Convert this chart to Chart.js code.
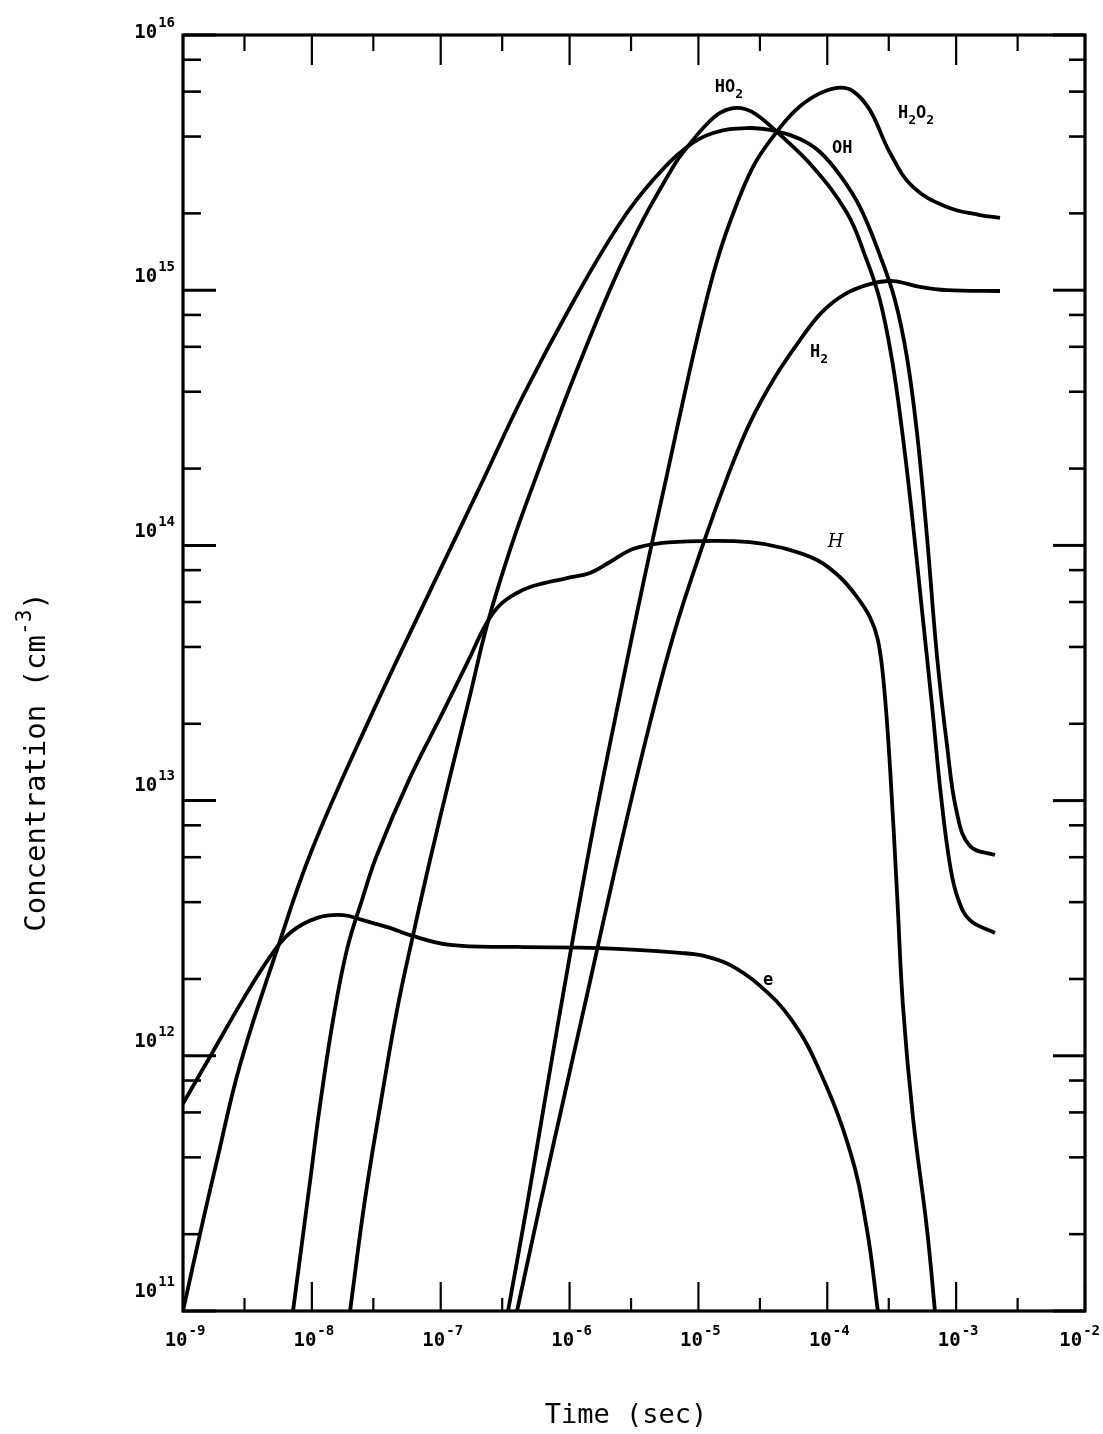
<!DOCTYPE html>
<html><head><meta charset="utf-8">
<script src="https://cdn.jsdelivr.net/npm/chart.js@4/dist/chart.umd.min.js"></script>
<style>
html,body{margin:0;padding:0;background:#fff;}
#wrap{position:relative;width:1103px;height:1434px;}
</style></head><body>
<div id="wrap"><canvas id="c"></canvas></div>
<script>
// ---- axis ticks ----
const X_MAJOR = [1e-9,1e-8,1e-7,1e-6,1e-5,1e-4,1e-3,1e-2];
const X_MAJOR_EXP = ['-9','-8','-7','-6','-5','-4','-3','-2'];
const X_MINOR = [3e-9,3e-8,3e-7,3e-6,3e-5,3e-4,3e-3];
const Y_MAJOR = [1e11,1e12,1e13,1e14,1e15,1e16];
const Y_MAJOR_EXP = ['11','12','13','14','15','16'];
const Y_MINOR = [2e11,4e11,6e11,8e11,2e12,4e12,6e12,8e12,2e13,4e13,6e13,8e13,
                 2e14,4e14,6e14,8e14,2e15,4e15,6e15,8e15];

// ---- series: time (s) and concentration (cm^-3) ----
const tE = [1e-9,1.71e-9,2.92e-9,4.73e-9,6.76e-9,1.10e-8,1.75e-8,2.49e-8,4.04e-8,5.78e-8,1.18e-7,3.91e-7,1.72e-6,7.19e-6,1.124e-5,1.758e-5,3.01e-5,5.13e-5,8.32e-5,1.50e-4,2.03e-4,2.47e-4];
const cE = [6.5e11,1.04e12,1.66e12,2.44e12,3.03e12,3.47e12,3.56e12,3.40e12,3.17e12,2.97e12,2.72e12,2.67e12,2.64e12,2.53e12,2.46e12,2.27e12,1.88e12,1.41e12,9.2e11,4.24e11,2.09e11,1e11];

const tH = [7.14e-9,9.67e-9,1.157e-8,1.46e-8,1.87e-8,2.45e-8,3.20e-8,5.78e-8,1.04e-7,1.63e-7,2.25e-7,2.88e-7,3.77e-7,5.20e-7,9.55e-7,1.44e-6,2.06e-6,3.10e-6,5.03e-6,1.03e-5,2.51e-5,4.53e-5,8.32e-5,1.25e-4,1.70e-4,2.14e-4,2.47e-4,2.75e-4,3.07e-4,3.48e-4,3.87e-4,4.62e-4,5.94e-4,6.85e-4];
const cH = [1e11,3.2e11,6.41e11,1.38e12,2.60e12,4.08e12,6.12e12,1.23e13,2.22e13,3.52e13,4.92e13,5.84e13,6.45e13,6.93e13,7.45e13,7.80e13,8.61e13,9.68e13,1.02e14,1.04e14,1.03e14,9.77e13,8.77e13,7.52e13,6.28e13,5.24e13,4.26e13,2.84e13,1.34e13,4.31e12,1.56e12,5.75e11,2.09e11,1e11];

const tHO2 = [1.98e-8,2.58e-8,3.56e-8,4.58e-8,5.98e-8,8.26e-8,1.18e-7,1.69e-7,2.29e-7,3.45e-7,5.20e-7,1.205e-6,2.79e-6,6.35e-6,9.08e-6,1.164e-5,1.47e-5,1.854e-5,2.30e-5,2.85e-5,4.07e-5,7.74e-5,1.42e-4,1.96e-4,2.56e-4,3.18e-4,3.80e-4,4.54e-4,5.43e-4,6.49e-4,7.62e-4,8.96e-4,1.03e-3,1.28e-3,2.0e-3];
const cHO2 = [1e11,2.72e11,7.35e11,1.51e12,2.84e12,5.85e12,1.24e13,2.59e13,4.88e13,9.60e13,1.72e14,5.23e14,1.41e15,3.04e15,3.88e15,4.48e15,4.95e15,5.17e15,5.13e15,4.86e15,4.17e15,3.04e15,2.01e15,1.37e15,9.16e14,5.33e14,2.83e14,1.32e14,5.58e13,2.37e13,1.05e13,5.59e12,4.15e12,3.40e12,3.03e12];

const tOH = [1e-9,1.36e-9,1.84e-9,2.77e-9,5.36e-9,1.0e-8,2.83e-8,8.71e-8,2.13e-7,4.35e-7,1.064e-6,2.46e-6,4.44e-6,8.15e-6,1.30e-5,2.38e-5,3.93e-5,6.14e-5,8.77e-5,1.25e-4,1.79e-4,2.56e-4,3.35e-4,4.15e-4,4.97e-4,5.94e-4,7.10e-4,8.49e-4,1.01e-3,1.28e-3,2.0e-3];
const cOH = [1e11,2.02e11,3.91e11,9.2e11,2.60e12,6.40e12,2.11e13,7.0e13,1.80e14,3.85e14,8.99e14,1.83e15,2.70e15,3.64e15,4.13e15,4.32e15,4.21e15,3.91e15,3.48e15,2.83e15,2.12e15,1.37e15,9.16e14,5.47e14,2.76e14,1.08e14,3.69e13,1.65e13,9.02e12,6.64e12,6.12e12];

const tH2O2 = [3.33e-7,4.68e-7,6.44e-7,1.007e-6,1.57e-6,2.46e-6,3.85e-6,5.70e-6,8.15e-6,1.066e-5,1.368e-5,1.758e-5,2.65e-5,3.93e-5,5.61e-5,8.03e-5,1.19e-4,1.58e-4,2.14e-4,3.07e-4,4.62e-4,8.49e-4,1.53e-3,2.19e-3];
const cH2O2 = [1e11,2.60e11,6.71e11,2.48e12,8.39e12,2.59e13,7.66e13,1.89e14,4.33e14,7.78e14,1.26e15,1.85e15,3.04e15,4.09e15,5.04e15,5.77e15,6.2e15,6.03e15,5.08e15,3.45e15,2.54e15,2.12e15,1.97e15,1.92e15];

const tH2 = [3.91e-7,5.89e-7,9.21e-7,1.44e-6,2.25e-6,3.99e-6,6.35e-6,1.03e-5,1.67e-5,2.51e-5,3.93e-5,6.14e-5,9.09e-5,1.372e-4,2.14e-4,3.24e-4,5.24e-4,8.49e-4,2.19e-3];
const cH2 = [1e11,2.60e11,7.15e11,1.95e12,5.35e12,1.81e13,4.38e13,9.34e13,1.84e14,3.02e14,4.57e14,6.38e14,8.21e14,9.66e14,1.057e15,1.086e15,1.03e15,1.00e15,9.93e14];

// ---- curve labels (anchor = left/baseline, in data units) ----
const LABEL_TEXT = ['HO2','H2O2','OH','H2','H','e'];
const LABEL_T = [1.34e-5,3.54e-4,1.087e-4,7.35e-5,1.01e-4,3.17e-5];
const LABEL_C = [5.98e15,4.73e15,3.45e15,5.47e14,9.86e13,1.89e12];

// ---- styles ----
const MONO = '"DejaVu Sans Mono", monospace';
const LABEL_ITALIC = [false,false,false,false,true,false];
const Y_LABEL_DY = [-14,-9,-10,-8,-8,3];

function series(ts, cs){ return ts.map((t,i)=>({x:t, y:cs[i]})); }
function ds(name, ts, cs){
  return {label:name, data:series(ts,cs), borderColor:'#000', borderWidth:3.8,
          pointRadius:0, fill:false, tension:0.4};
}

function drawPow(ctx, base, exp, x, y, align, maxRight){
  ctx.font = 'bold 19px ' + MONO;
  const wb = ctx.measureText(base).width;
  ctx.font = 'bold 14px ' + MONO;
  const we = ctx.measureText(exp).width;
  const total = wb + we + 1;
  let sx = align === 'right' ? x - total : x - total/2;
  if (maxRight !== undefined) sx = Math.min(sx, maxRight - total);
  ctx.textAlign = 'left'; ctx.textBaseline = 'alphabetic';
  ctx.font = 'bold 19px ' + MONO;
  ctx.fillText(base, sx, y);
  ctx.font = 'bold 14px ' + MONO;
  ctx.fillText(exp, sx + wb + 1, y - 11);
}

function drawChem(ctx, text, x, y, italic){
  let cx = x;
  ctx.textAlign = 'left'; ctx.textBaseline = 'alphabetic';
  for (const ch of text){
    const sub = /[0-9]/.test(ch);
    if (italic) ctx.font = 'italic 18px "DejaVu Serif", serif';
    else ctx.font = (sub ? 'bold 13px ' : 'bold 17px ') + MONO;
    ctx.fillText(ch, cx, sub ? y + 6 : y);
    cx += ctx.measureText(ch).width;
  }
}

const decor = {
  id:'decor',
  afterDatasetsDraw(chart){
    const {ctx, chartArea:a, scales:{x, y}} = chart;
    ctx.save();
    ctx.fillStyle = '#000'; ctx.strokeStyle = '#000';
    ctx.lineWidth = 3.2;
    ctx.strokeRect(a.left, a.top, a.right - a.left, a.bottom - a.top);
    const seg = (x1,y1,x2,y2)=>{ctx.beginPath();ctx.moveTo(x1,y1);ctx.lineTo(x2,y2);ctx.stroke();};
    ctx.lineWidth = 2.2;
    X_MAJOR.forEach(v=>{const p=x.getPixelForValue(v); seg(p,a.bottom,p,a.bottom-29); seg(p,a.top,p,a.top+30);});
    X_MINOR.forEach(v=>{const p=x.getPixelForValue(v); seg(p,a.bottom,p,a.bottom-13); seg(p,a.top,p,a.top+16);});
    ctx.lineWidth = 3;
    Y_MAJOR.forEach(v=>{const p=y.getPixelForValue(v); seg(a.left,p,a.left+33,p); seg(a.right,p,a.right-32,p);});
    ctx.lineWidth = 2.6;
    Y_MINOR.forEach(v=>{const p=y.getPixelForValue(v); seg(a.left,p,a.left+18,p); seg(a.right,p,a.right-16,p);});
    X_MAJOR.forEach((v,i)=>drawPow(ctx,'10',X_MAJOR_EXP[i],x.getPixelForValue(v)+2,a.bottom+35,'center',chart.width-3));
    Y_MAJOR.forEach((v,i)=>drawPow(ctx,'10',Y_MAJOR_EXP[i],a.left-8,y.getPixelForValue(v)+Y_LABEL_DY[i],'right'));
    LABEL_TEXT.forEach((s,i)=>drawChem(ctx,s,x.getPixelForValue(LABEL_T[i]),y.getPixelForValue(LABEL_C[i]),LABEL_ITALIC[i]));
    ctx.textAlign='center'; ctx.textBaseline='alphabetic';
    ctx.font = '27px ' + MONO;
    ctx.fillText('Time (sec)', (a.left+a.right)/2 - 8, a.bottom + 112);
    ctx.save();
    ctx.translate(45, 762);
    ctx.rotate(-Math.PI/2);
    const p1 = 'Concentration (cm', p2 = '-3', p3 = ')';
    ctx.font = '29px ' + MONO; const w1 = ctx.measureText(p1).width, w3 = ctx.measureText(p3).width;
    ctx.font = '21px ' + MONO; const w2 = ctx.measureText(p2).width;
    const tot = w1 + w2 + w3; let sx = -tot/2;
    ctx.textAlign='left';
    ctx.font = '29px ' + MONO; ctx.fillText(p1, sx, 0); sx += w1;
    ctx.font = '21px ' + MONO; ctx.fillText(p2, sx, -14); sx += w2;
    ctx.font = '29px ' + MONO; ctx.fillText(p3, sx, 0);
    ctx.restore();
    ctx.restore();
  }
};

new Chart(document.getElementById('c'), {
  type:'line',
  data:{datasets:[
    ds('e', tE, cE), ds('H', tH, cH), ds('HO2', tHO2, cHO2),
    ds('OH', tOH, cOH), ds('H2O2', tH2O2, cH2O2), ds('H2', tH2, cH2)
  ]},
  options:{
    responsive:true, maintainAspectRatio:false, animation:false,
    layout:{padding:{left:183, right:18, top:35, bottom:123}},
    plugins:{legend:{display:false}, tooltip:{enabled:false}},
    scales:{
      x:{type:'logarithmic', min:1e-9, max:1e-2, display:false},
      y:{type:'logarithmic', min:1e11, max:1e16, display:false}
    }
  },
  plugins:[decor]
});
</script>
</body></html>
